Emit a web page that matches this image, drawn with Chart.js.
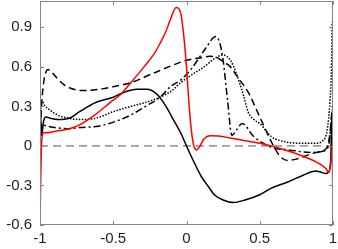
<!DOCTYPE html>
<html><head><meta charset="utf-8">
<script src="https://cdn.jsdelivr.net/npm/chart.js@4/dist/chart.umd.min.js"></script>
<style>html,body{margin:0;padding:0;background:#fff}#wrap{width:338px;height:249px}</style>
</head><body><div id="wrap"><canvas id="c"></canvas></div>
<script>
const xTicks = [-1, -0.5, 0, 0.5, 1];
const yTicks = [-0.6, -0.3, 0, 0.3, 0.6, 0.9];

const solidX = [-1, -0.997, -0.99, -0.983, -0.975, -0.96, -0.93, -0.88, -0.8, -0.73, -0.62, -0.5, -0.42, -0.34, -0.27, -0.2, -0.14, -0.09, -0.04, 0.0, 0.05, 0.1, 0.15, 0.19, 0.25, 0.32, 0.4, 0.5, 0.58, 0.7, 0.8, 0.88, 0.92, 0.95, 0.97, 0.985, 0.993, 1.0];
const solidY = [0.48, 0.3, 0.08, 0.12, 0.19, 0.22, 0.21, 0.2, 0.21, 0.26, 0.33, 0.37, 0.41, 0.43, 0.43, 0.39, 0.3, 0.2, 0.1, 0.0, -0.12, -0.23, -0.31, -0.37, -0.41, -0.43, -0.41, -0.37, -0.32, -0.27, -0.22, -0.19, -0.2, -0.21, -0.2, -0.1, 0.25, -0.6];

const redX = [-1, -0.996, -0.99, -0.985, -0.975, -0.96, -0.9, -0.8, -0.73, -0.62, -0.52, -0.45, -0.38, -0.29, -0.22, -0.18, -0.14, -0.11, -0.07, -0.04, -0.02, 0.0, 0.015, 0.03, 0.05, 0.07, 0.09, 0.12, 0.16, 0.22, 0.3, 0.4, 0.5, 0.58, 0.7, 0.8, 0.9, 0.95, 0.97, 0.985, 1.0];
const redY = [-0.6, -0.3, 0.0, 0.07, 0.1, 0.1, 0.11, 0.13, 0.16, 0.24, 0.33, 0.39, 0.48, 0.6, 0.7, 0.78, 0.87, 0.96, 1.05, 1.01, 0.85, 0.6, 0.35, 0.15, 0.0, -0.03, -0.005, 0.055, 0.078, 0.075, 0.06, 0.04, 0.02, 0.0, -0.04, -0.08, -0.13, -0.17, -0.2, -0.12, 0.05];

const dashX = [-1, -0.99, -0.975, -0.96, -0.945, -0.92, -0.88, -0.83, -0.77, -0.7, -0.6, -0.5, -0.38, -0.25, -0.1, 0.0, 0.1, 0.16, 0.21, 0.25, 0.3, 0.35, 0.42, 0.5, 0.58, 0.64, 0.69, 0.75, 0.85, 0.92, 0.96, 0.98, 0.993, 1.0];
const dashY = [0.05, 0.3, 0.48, 0.56, 0.58, 0.56, 0.51, 0.46, 0.43, 0.42, 0.43, 0.45, 0.48, 0.54, 0.61, 0.65, 0.67, 0.68, 0.67, 0.64, 0.6, 0.52, 0.41, 0.22, 0.03, -0.08, -0.11, -0.1, -0.06, -0.04, -0.01, 0.1, 0.25, 0.2];

const dotX = [-1, -0.995, -0.985, -0.97, -0.93, -0.87, -0.8, -0.73, -0.62, -0.5, -0.38, -0.28, -0.18, -0.1, -0.04, 0.05, 0.12, 0.2, 0.25, 0.3, 0.34, 0.39, 0.42, 0.46, 0.5, 0.58, 0.68, 0.78, 0.88, 0.93, 0.96, 0.98, 0.99, 0.995, 1.0];
const dotY = [0.1, 0.3, 0.34, 0.31, 0.27, 0.23, 0.21, 0.2, 0.21, 0.26, 0.3, 0.33, 0.37, 0.42, 0.48, 0.55, 0.6, 0.67, 0.69, 0.65, 0.55, 0.38, 0.26, 0.2, 0.17, 0.07, 0.03, 0.02, 0.02, 0.04, 0.12, 0.35, 0.6, 0.94, 0.94];

const dashDotX = [-1, -0.993, -0.985, -0.975, -0.95, -0.9, -0.8, -0.73, -0.6, -0.45, -0.38, -0.28, -0.18, -0.11, -0.04, 0.03, 0.075, 0.13, 0.2, 0.23, 0.25, 0.28, 0.31, 0.34, 0.38, 0.46, 0.58, 0.7, 0.85, 0.93, 0.97, 0.985, 1.0];
const dashDotY = [0.0, 0.12, 0.17, 0.16, 0.15, 0.14, 0.13, 0.14, 0.15, 0.2, 0.235, 0.3, 0.37, 0.45, 0.5, 0.58, 0.65, 0.74, 0.83, 0.77, 0.65, 0.35, 0.08, 0.12, 0.17, 0.07, -0.01, -0.03, -0.05, -0.04, 0.0, 0.15, 0.3];

const zeroX = [-1, 1];
const zeroY = [0, 0];

const pts = (xs, ys) => xs.map((x, i) => ({x, y: ys[i]}));
const ds = (xs, ys, color, dash, width) => ({
  data: pts(xs, ys), borderColor: color, borderWidth: width, borderDash: dash,
  pointRadius: 0, fill: false, cubicInterpolationMode: 'monotone'
});

const frame = {
  id: 'frame',
  afterDatasetsDraw(chart) {
    const {ctx, chartArea: a, scales: {x, y}} = chart;
    ctx.save();
    ctx.strokeStyle = '#858585';
    ctx.lineWidth = 1;
    ctx.setLineDash([]);
    ctx.strokeRect(a.left + 0.5, a.top + 0.5, a.right - a.left - 1, a.bottom - a.top - 1);
    const L = 4;
    ctx.beginPath();
    xTicks.forEach(v => {
      const px = Math.round(x.getPixelForValue(v)) + 0.5;
      ctx.moveTo(px, a.bottom); ctx.lineTo(px, a.bottom - L);
      ctx.moveTo(px, a.top); ctx.lineTo(px, a.top + L);
    });
    yTicks.forEach(v => {
      const py = Math.round(y.getPixelForValue(v)) + 0.5;
      ctx.moveTo(a.left, py); ctx.lineTo(a.left + L, py);
      ctx.moveTo(a.right, py); ctx.lineTo(a.right - L, py);
    });
    ctx.stroke();
    ctx.restore();
  }
};

new Chart(document.getElementById('c'), {
  type: 'line',
  data: {
    datasets: [
      ds(redX, redY, '#ff0000', [], 1.5),
      ds(solidX, solidY, '#000000', [], 1.5),
      ds(dashX, dashY, '#000000', [7, 4], 1.5),
      ds(dotX, dotY, '#000000', [1.5, 1.5], 1.5),
      ds(dashDotX, dashDotY, '#000000', [7, 3, 2, 3], 1.5),
      ds(zeroX, zeroY, '#555555', [8, 5], 1)
    ]
  },
  options: {
    responsive: true, maintainAspectRatio: false, animation: false,
    layout: {padding: {top: 1, right: 5, left: 0, bottom: 0}},
    plugins: {legend: {display: false}, tooltip: {enabled: false}},
    scales: {
      x: {
        type: 'linear', min: -1, max: 1,
        afterBuildTicks: s => { s.ticks = xTicks.map(v => ({value: v})); },
        afterFit: s => { s.height = 24; s.paddingLeft = 0; s.paddingRight = 0; s.paddingTop = 0; s.paddingBottom = 0; },
        grid: {display: false, drawTicks: false},
        border: {display: false},
        ticks: {padding: 5, maxRotation: 0, autoSkip: false, color: '#222',
          font: {family: 'Liberation Sans', size: 15}, callback: v => String(v)}
      },
      y: {
        type: 'linear', min: -0.6, max: 1.1,
        afterBuildTicks: s => { s.ticks = yTicks.map(v => ({value: v})); },
        afterFit: s => { s.width = 40; s.paddingLeft = 0; s.paddingRight = 0; s.paddingTop = 0; s.paddingBottom = 0; },
        grid: {display: false, drawTicks: false},
        border: {display: false},
        ticks: {padding: 8, autoSkip: false, color: '#222',
          font: {family: 'Liberation Sans', size: 15}, callback: v => String(v)}
      }
    }
  },
  plugins: [frame]
});
</script></body></html>
